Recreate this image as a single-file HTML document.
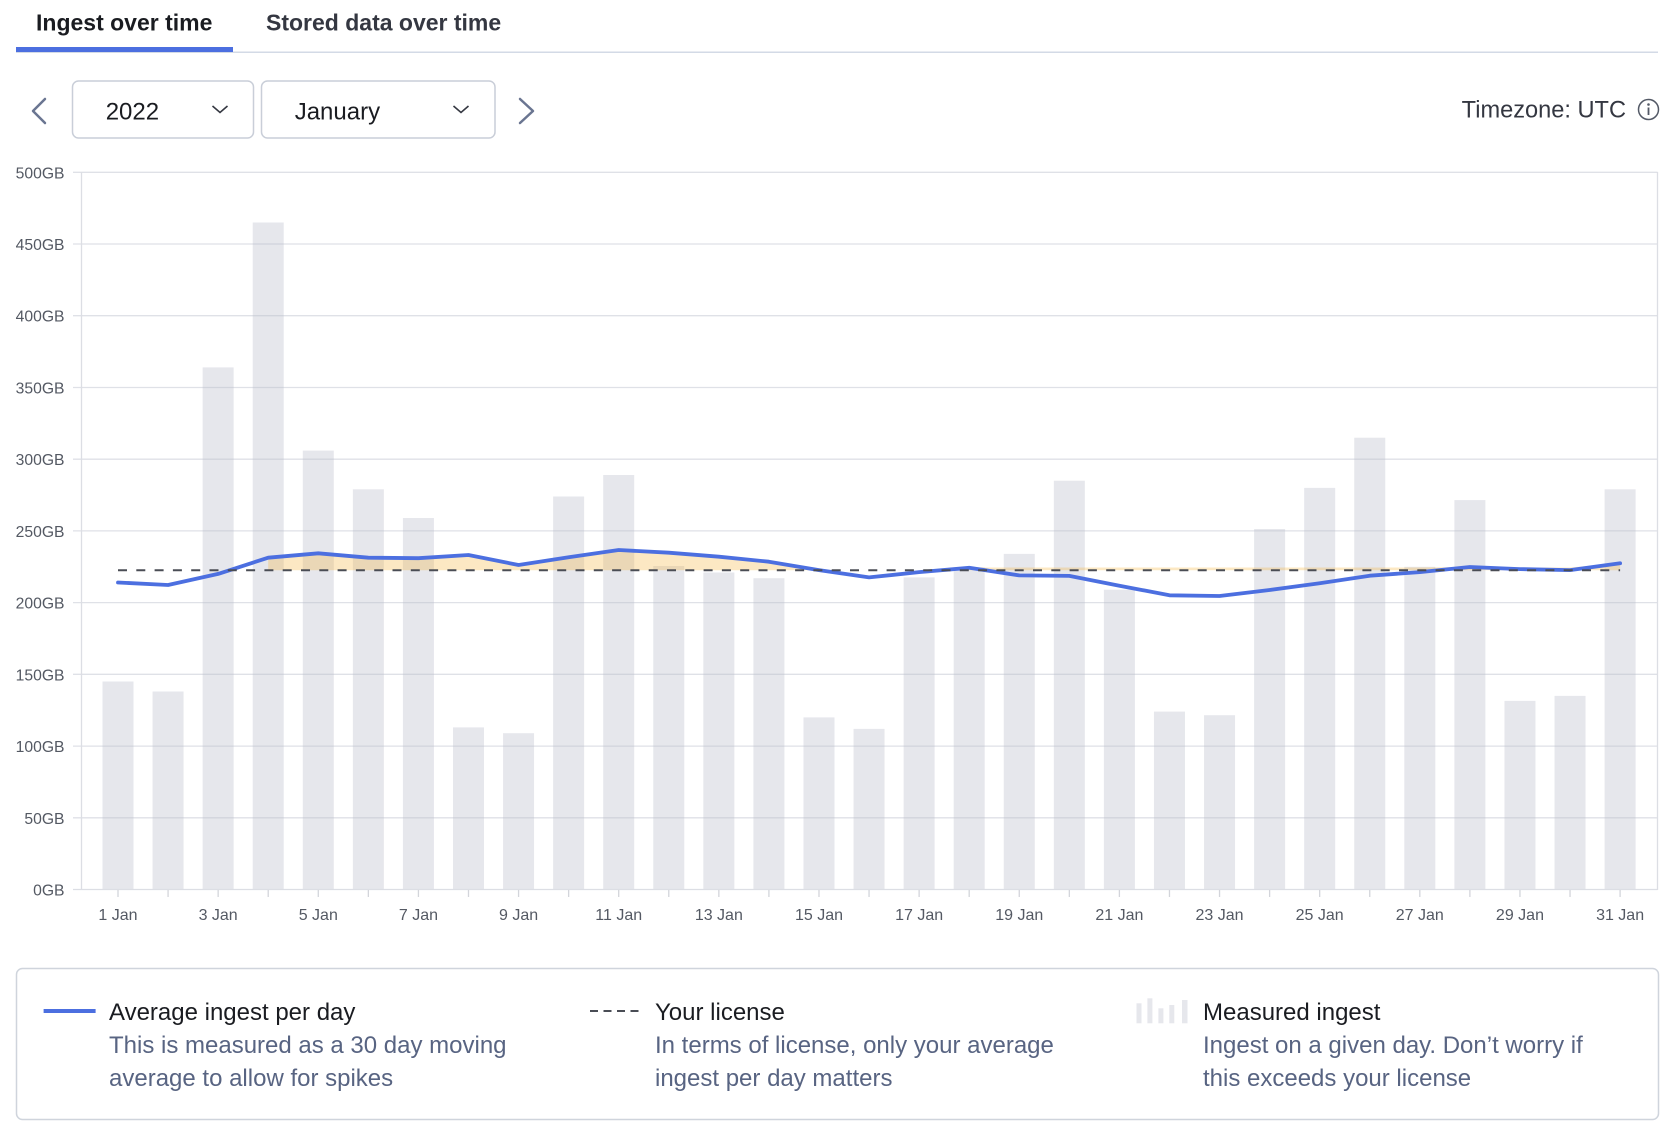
<!DOCTYPE html>
<html>
<head>
<meta charset="utf-8">
<style>
  html, body { margin: 0; padding: 0; background: #ffffff; }
  body { width: 1672px; height: 1135px; overflow: hidden; }
  svg { display: block; font-family: "Liberation Sans", Arial, sans-serif; }
</style>
</head>
<body>
<svg width="1672" height="1135" viewBox="0 0 1672 1135" xmlns="http://www.w3.org/2000/svg">
  <!-- Tabs -->
  <text x="36" y="30.7" font-size="23" font-weight="bold" fill="#1a1c21">Ingest over time</text>
  <text x="266" y="30.7" font-size="23" font-weight="bold" fill="#343741">Stored data over time</text>
  <rect x="16" y="51.5" width="1642" height="1.5" fill="#d3dae6"/>
  <rect x="16" y="47" width="217" height="5" fill="#4c6fe0"/>

  <!-- Nav arrows -->
  <polyline points="45,99 33,111 45,123" fill="none" stroke="#6a7591" stroke-width="2.5" stroke-linecap="round" stroke-linejoin="round"/>
  <polyline points="520,99 533,111 520,123" fill="none" stroke="#6a7591" stroke-width="2.5" stroke-linecap="round" stroke-linejoin="round"/>

  <!-- Dropdowns -->
  <rect x="72.5" y="81" width="181" height="57" rx="6" ry="6" fill="#fff" stroke="#c9ced8" stroke-width="1.5"/>
  <text x="105.7" y="119.5" font-size="24" fill="#1a1c21">2022</text>
  <polyline points="212.5,106 220,112.5 227.5,106" fill="none" stroke="#343741" stroke-width="1.6"/>
  <rect x="261.5" y="81" width="233.5" height="57" rx="6" ry="6" fill="#fff" stroke="#c9ced8" stroke-width="1.5"/>
  <text x="294.7" y="119.5" font-size="24" fill="#1a1c21">January</text>
  <polyline points="453.5,106 461,112.5 468.5,106" fill="none" stroke="#343741" stroke-width="1.6"/>

  <!-- Timezone -->
  <text x="1626" y="117.3" font-size="23.6" fill="#343741" text-anchor="end">Timezone: UTC</text>
  <circle cx="1648.5" cy="109.5" r="10" fill="none" stroke="#535966" stroke-width="1.5"/>
  <circle cx="1648.5" cy="104.5" r="1.3" fill="#535966"/>
  <line x1="1648.5" y1="107.5" x2="1648.5" y2="115" stroke="#535966" stroke-width="1.8"/>

  <!-- Bars -->
  <g fill="#e6e7ec">
    <rect x="102.5" y="681.5" width="31" height="208.0"/>
    <rect x="152.57" y="691.5" width="31" height="198.0"/>
    <rect x="202.64" y="367.4" width="31" height="522.1"/>
    <rect x="252.71" y="222.5" width="31" height="667.0"/>
    <rect x="302.78" y="450.6" width="31" height="438.9"/>
    <rect x="352.85" y="489.3" width="31" height="400.2"/>
    <rect x="402.92" y="518.0" width="31" height="371.5"/>
    <rect x="452.99" y="727.4" width="31" height="162.1"/>
    <rect x="503.06" y="733.2" width="31" height="156.3"/>
    <rect x="553.13" y="496.5" width="31" height="393.0"/>
    <rect x="603.2" y="475.0" width="31" height="414.5"/>
    <rect x="653.27" y="566.0" width="31" height="323.5"/>
    <rect x="703.34" y="572.5" width="31" height="317.0"/>
    <rect x="753.41" y="578.2" width="31" height="311.3"/>
    <rect x="803.48" y="717.4" width="31" height="172.1"/>
    <rect x="853.55" y="728.9" width="31" height="160.6"/>
    <rect x="903.62" y="577.4" width="31" height="312.1"/>
    <rect x="953.69" y="567.3" width="31" height="322.2"/>
    <rect x="1003.76" y="553.9" width="31" height="335.6"/>
    <rect x="1053.83" y="480.7" width="31" height="408.8"/>
    <rect x="1103.9" y="589.7" width="31" height="299.8"/>
    <rect x="1153.97" y="711.6" width="31" height="177.9"/>
    <rect x="1204.04" y="715.2" width="31" height="174.3"/>
    <rect x="1254.11" y="529.0" width="31" height="360.5"/>
    <rect x="1304.18" y="487.9" width="31" height="401.6"/>
    <rect x="1354.25" y="437.7" width="31" height="451.8"/>
    <rect x="1404.32" y="566.8" width="31" height="322.7"/>
    <rect x="1454.39" y="500.1" width="31" height="389.4"/>
    <rect x="1504.46" y="700.9" width="31" height="188.6"/>
    <rect x="1554.53" y="695.9" width="31" height="193.6"/>
    <rect x="1604.6" y="489.3" width="31" height="400.2"/>
  </g>

  <!-- Gridlines (drawn over bars) -->
  <g stroke="rgba(185,189,202,0.45)" stroke-width="1.3">
    <line x1="73" y1="172.3" x2="1657.5" y2="172.3"/>
    <line x1="73" y1="244.0" x2="1657.5" y2="244.0"/>
    <line x1="73" y1="315.7" x2="1657.5" y2="315.7"/>
    <line x1="73" y1="387.5" x2="1657.5" y2="387.5"/>
    <line x1="73" y1="459.2" x2="1657.5" y2="459.2"/>
    <line x1="73" y1="530.9" x2="1657.5" y2="530.9"/>
    <line x1="73" y1="602.6" x2="1657.5" y2="602.6"/>
    <line x1="73" y1="674.3" x2="1657.5" y2="674.3"/>
    <line x1="73" y1="746.1" x2="1657.5" y2="746.1"/>
    <line x1="73" y1="817.8" x2="1657.5" y2="817.8"/>
  </g>
  <line x1="73" y1="889.5" x2="1657.5" y2="889.5" stroke="#dcdee4" stroke-width="1.3"/>
  <line x1="81.5" y1="172" x2="81.5" y2="890" stroke="#dcdee4" stroke-width="1.3"/>
  <line x1="1657.5" y1="172" x2="1657.5" y2="890" stroke="#dcdee4" stroke-width="1.3"/>

  <!-- X ticks -->
  <g stroke="#d3d5db" stroke-width="1.3">
    <line x1="118" y1="890" x2="118" y2="897"/>
    <line x1="168.07" y1="890" x2="168.07" y2="897"/>
    <line x1="218.14" y1="890" x2="218.14" y2="897"/>
    <line x1="268.21" y1="890" x2="268.21" y2="897"/>
    <line x1="318.28" y1="890" x2="318.28" y2="897"/>
    <line x1="368.35" y1="890" x2="368.35" y2="897"/>
    <line x1="418.42" y1="890" x2="418.42" y2="897"/>
    <line x1="468.49" y1="890" x2="468.49" y2="897"/>
    <line x1="518.56" y1="890" x2="518.56" y2="897"/>
    <line x1="568.63" y1="890" x2="568.63" y2="897"/>
    <line x1="618.7" y1="890" x2="618.7" y2="897"/>
    <line x1="668.77" y1="890" x2="668.77" y2="897"/>
    <line x1="718.84" y1="890" x2="718.84" y2="897"/>
    <line x1="768.91" y1="890" x2="768.91" y2="897"/>
    <line x1="818.98" y1="890" x2="818.98" y2="897"/>
    <line x1="869.05" y1="890" x2="869.05" y2="897"/>
    <line x1="919.12" y1="890" x2="919.12" y2="897"/>
    <line x1="969.19" y1="890" x2="969.19" y2="897"/>
    <line x1="1019.26" y1="890" x2="1019.26" y2="897"/>
    <line x1="1069.33" y1="890" x2="1069.33" y2="897"/>
    <line x1="1119.4" y1="890" x2="1119.4" y2="897"/>
    <line x1="1169.47" y1="890" x2="1169.47" y2="897"/>
    <line x1="1219.54" y1="890" x2="1219.54" y2="897"/>
    <line x1="1269.61" y1="890" x2="1269.61" y2="897"/>
    <line x1="1319.68" y1="890" x2="1319.68" y2="897"/>
    <line x1="1369.75" y1="890" x2="1369.75" y2="897"/>
    <line x1="1419.82" y1="890" x2="1419.82" y2="897"/>
    <line x1="1469.89" y1="890" x2="1469.89" y2="897"/>
    <line x1="1519.96" y1="890" x2="1519.96" y2="897"/>
    <line x1="1570.03" y1="890" x2="1570.03" y2="897"/>
    <line x1="1620.1" y1="890" x2="1620.1" y2="897"/>
  </g>

  <!-- Y labels -->
  <g font-size="15.7" fill="#545963" text-anchor="end">
    <text x="64.5" y="178.3">500GB</text>
    <text x="64.5" y="250.0">450GB</text>
    <text x="64.5" y="321.7">400GB</text>
    <text x="64.5" y="393.5">350GB</text>
    <text x="64.5" y="465.2">300GB</text>
    <text x="64.5" y="536.9">250GB</text>
    <text x="64.5" y="608.6">200GB</text>
    <text x="64.5" y="680.3">150GB</text>
    <text x="64.5" y="752.1">100GB</text>
    <text x="64.5" y="823.8">50GB</text>
    <text x="64.5" y="895.5">0GB</text>
  </g>

  <!-- X labels -->
  <g font-size="16" fill="#545963" text-anchor="middle">
    <text x="118" y="920">1 Jan</text>
    <text x="218.14" y="920">3 Jan</text>
    <text x="318.28" y="920">5 Jan</text>
    <text x="418.42" y="920">7 Jan</text>
    <text x="518.56" y="920">9 Jan</text>
    <text x="618.7" y="920">11 Jan</text>
    <text x="718.84" y="920">13 Jan</text>
    <text x="818.98" y="920">15 Jan</text>
    <text x="919.12" y="920">17 Jan</text>
    <text x="1019.26" y="920">19 Jan</text>
    <text x="1119.4" y="920">21 Jan</text>
    <text x="1219.54" y="920">23 Jan</text>
    <text x="1319.68" y="920">25 Jan</text>
    <text x="1419.82" y="920">27 Jan</text>
    <text x="1519.96" y="920">29 Jan</text>
    <text x="1620.1" y="920">31 Jan</text>
  </g>

  <!-- Overage fill -->
  <polygon fill="rgba(245,180,55,0.3)" points="268.21,570.3 268.21,557.7 318.28,553.3 368.35,557.7 418.42,558.2 468.49,555.0 518.56,565.0 568.63,557.3 618.7,550.0 668.77,552.7 718.84,556.7 768.91,561.7 818.98,570.1 818.98,570.3"/>
  <polygon fill="rgba(245,180,55,0.3)" points="969.19,570.3 969.19,567.5 1419.82,567.5 1469.89,567.0 1519.96,567.5 1570.03,567.5 1620.1,563.3 1620.1,570.3"/>

  <!-- Average line -->
  <polyline fill="none" stroke="#4c6fe0" stroke-width="3.8" stroke-linejoin="round" stroke-linecap="round"
    points="118,582.5 168.07,585.0 218.14,573.9 268.21,557.7 318.28,553.3 368.35,557.7 418.42,558.2 468.49,555.0 518.56,565.0 568.63,557.3 618.7,550.0 668.77,552.7 718.84,556.7 768.91,561.7 818.98,570.1 869.05,577.4 919.12,572.1 969.19,567.8 1019.26,575.4 1069.33,575.9 1119.4,585.7 1169.47,595.3 1219.54,596.0 1269.61,590.0 1319.68,583.3 1369.75,575.7 1419.82,572.1 1469.89,567.0 1519.96,569.1 1570.03,570.1 1620.1,563.3"/>

  <!-- License dashed -->
  <line x1="118" y1="570.3" x2="1620.1" y2="570.3" stroke="#4a4d55" stroke-width="2" stroke-dasharray="9 9.3"/>

  <!-- Legend box -->
  <rect x="16.5" y="968.5" width="1642" height="151" rx="6" ry="6" fill="none" stroke="#cfd4dc" stroke-width="1.5"/>

  <!-- Legend item 1 -->
  <rect x="43.6" y="1009" width="52" height="4" fill="#4c6fe0"/>
  <text x="109" y="1020" font-size="24" fill="#1a1c21">Average ingest per day</text>
  <text x="109" y="1053" font-size="24" fill="#586482">This is measured as a 30 day moving</text>
  <text x="109" y="1086" font-size="24" fill="#586482">average to allow for spikes</text>

  <!-- Legend item 2 -->
  <line x1="590" y1="1011" x2="643" y2="1011" stroke="#4a4d55" stroke-width="2" stroke-dasharray="8 5.5"/>
  <text x="655" y="1020" font-size="24" fill="#1a1c21">Your license</text>
  <text x="655" y="1053" font-size="24" fill="#586482">In terms of license, only your average</text>
  <text x="655" y="1086" font-size="24" fill="#586482">ingest per day matters</text>

  <!-- Legend item 3 -->
  <g fill="#e6e7ec">
    <rect x="1136.5" y="1003.3" width="5" height="20"/>
    <rect x="1147.4" y="998.3" width="5" height="25"/>
    <rect x="1158.4" y="1008.3" width="5" height="15"/>
    <rect x="1169.3" y="1005" width="5" height="18.3"/>
    <rect x="1182" y="1000" width="5.5" height="23.3"/>
  </g>
  <text x="1203" y="1020" font-size="24" fill="#1a1c21">Measured ingest</text>
  <text x="1203" y="1053" font-size="24" fill="#586482">Ingest on a given day. Don’t worry if</text>
  <text x="1203" y="1086" font-size="24" fill="#586482">this exceeds your license</text>
</svg>
</body>
</html>
